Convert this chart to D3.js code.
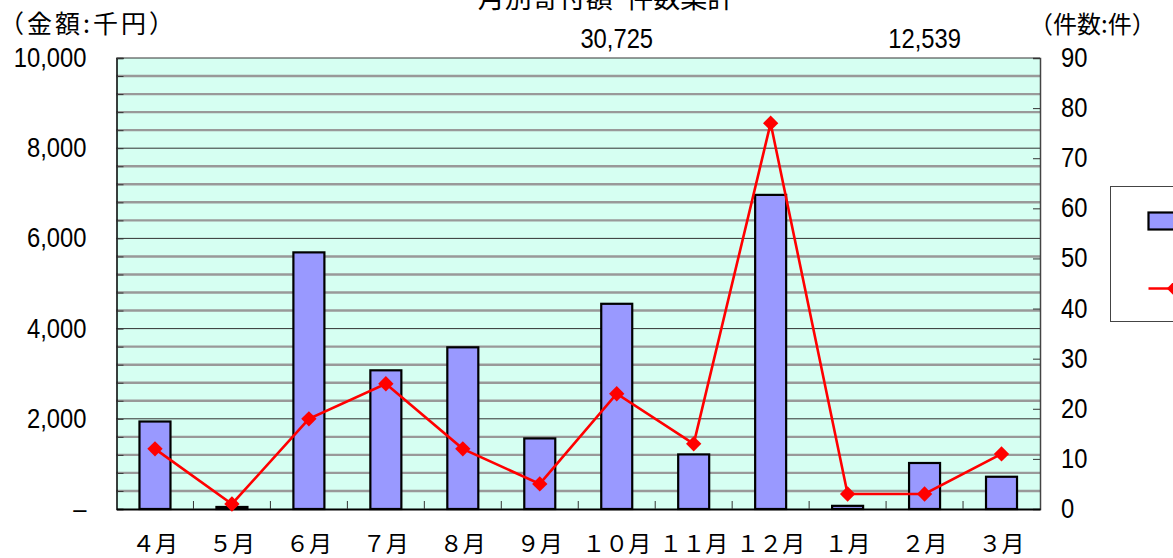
<!DOCTYPE html>
<html>
<head>
<meta charset="utf-8">
<script src="https://cdn.jsdelivr.net/npm/d3@7"></script>
<style>
  body { margin: 0; background: #fff; }
  text { font-family: "Liberation Sans", Arial, sans-serif; fill: #000; }
  .jp { font-family: "Noto Sans CJK JP", sans-serif; }
</style>
</head>
<body>
<div id="chart"></div>
<script>
// data
var months = ["４月", "５月", "６月", "７月", "８月", "９月", "１０月", "１１月", "１２月", "１月", "２月", "３月"];
var amounts = [1940, 45, 5690, 3075, 3585, 1565, 4550, 1210, 6965, 70, 1020, 715]; // 千円
var counts = [12, 1, 18, 25, 12, 5, 23, 13, 77, 3, 3, 11]; // 件
var leftTicks = [0, 2000, 4000, 6000, 8000, 10000];
var rightTicks = [0, 10, 20, 30, 40, 50, 60, 70, 80, 90];
var notes = [{ month: "１０月", text: "30,725" }, { month: "２月", text: "12,539" }];

var svgWidth = 1173, svgHeight = 558;
var margin = { top: 58, right: 133, bottom: 49, left: 116.5 };
var width = svgWidth - margin.left - margin.right;
var height = svgHeight - margin.top - margin.bottom;

var svg = d3.select("#chart").append("svg")
  .attr("width", svgWidth)
  .attr("height", svgHeight);

var g = svg.append("g")
  .attr("transform", `translate(${margin.left}, ${margin.top})`);

// numbers in the picture use a tall, slightly narrow face
function numText(sel) {
  sel.attr("font-size", "27px");
}

// scales
var x = d3.scaleBand().domain(months).range([0, width]).paddingInner(0).paddingOuter(0);
var yL = d3.scaleLinear().domain([0, 10000]).range([height, 0]);
var yR = d3.scaleLinear().domain([0, 90]).range([height, 0]);

// plot background
g.append("rect")
  .attr("width", width)
  .attr("height", height)
  .attr("fill", "#d6fff2");

// gridlines: grey every 400, dark every 2000
var minor = d3.range(400, 10001, 400).filter(d => d % 2000 !== 0);
g.selectAll(".gminor").data(minor).enter().append("line")
  .attr("x1", 0).attr("x2", width)
  .attr("y1", d => yL(d)).attr("y2", d => yL(d))
  .attr("stroke", "#999").attr("stroke-width", 2.4);
g.selectAll(".gmajor").data(leftTicks.filter(d => d > 0)).enter().append("line")
  .attr("x1", 0).attr("x2", width)
  .attr("y1", d => yL(d)).attr("y2", d => yL(d))
  .attr("stroke", "#333").attr("stroke-width", 1);

// bars
var bw = 31;
g.selectAll(".bar").data(amounts).enter().append("rect")
  .attr("x", (d, i) => x(months[i]) + x.bandwidth() / 2 - bw / 2)
  .attr("y", d => yL(d))
  .attr("width", bw)
  .attr("height", d => height - yL(d))
  .attr("fill", "#9999ff")
  .attr("stroke", "#000")
  .attr("stroke-width", 2.2);

// left axis
var leftAxis = d3.axisLeft(yL)
  .tickValues(d3.range(0, 10001, 400))
  .tickSize(-7)
  .tickFormat("");
var la = g.append("g").call(leftAxis);
la.select(".domain").attr("stroke", "#000").attr("stroke-width", 1.5);
la.selectAll(".tick line").attr("stroke", "#333");

g.selectAll(".ltext").data(leftTicks).enter().append("text")
  .attr("transform", d => `translate(-30, ${yL(d) + 9}) scale(0.88, 1)`)
  .attr("text-anchor", "end")
  .call(numText)
  .text(d => d === 0 ? "–" : d3.format(",")(d));

// right axis
var rightAxis = d3.axisRight(yR)
  .tickValues(rightTicks)
  .tickSize(-7)
  .tickFormat("");
var ra = g.append("g").attr("transform", `translate(${width}, 0)`).call(rightAxis);
ra.select(".domain").attr("stroke", "#444").attr("stroke-width", 1.5);
ra.selectAll(".tick line").attr("stroke", "#333");

g.selectAll(".rtext").data(rightTicks).enter().append("text")
  .attr("transform", d => `translate(${width + 21}, ${yR(d) + 9}) scale(0.88, 1)`)
  .call(numText)
  .text(d => d);

// bottom axis: ticks between categories pointing up
var bottomAxis = d3.axisBottom(x).tickSize(0).tickFormat("");
var ba = g.append("g").attr("transform", `translate(0, ${height})`).call(bottomAxis);
ba.select(".domain").attr("stroke", "#000").attr("stroke-width", 2);
g.selectAll(".btick").data(months.slice(1)).enter().append("line")
  .attr("x1", d => x(d)).attr("x2", d => x(d))
  .attr("y1", height).attr("y2", height - 8)
  .attr("stroke", "#333");

g.selectAll(".mlabel").data(months).enter().append("text")
  .attr("class", "jp")
  .attr("x", d => x(d) + x.bandwidth() / 2)
  .attr("y", height + 43)
  .attr("text-anchor", "middle")
  .attr("font-size", "23px")
  .text(d => d);

// line series
var line = d3.line()
  .x((d, i) => x(months[i]) + x.bandwidth() / 2)
  .y(d => yR(d));
g.append("path")
  .datum(counts)
  .attr("d", line)
  .attr("fill", "none")
  .attr("stroke", "#ff0000")
  .attr("stroke-width", 2.6);

var diamond = d3.symbol().type(d3.symbolDiamond2).size(150);
g.selectAll(".marker").data(counts).enter().append("path")
  .attr("d", diamond)
  .attr("transform", (d, i) => `translate(${x(months[i]) + x.bandwidth() / 2}, ${yR(d)})`)
  .attr("fill", "#ff0000");

// annotations above plot
g.selectAll(".note").data(notes).enter().append("text")
  .attr("transform", d => `translate(${x(d.month) + x.bandwidth() / 2}, -10) scale(0.88, 1)`)
  .attr("text-anchor", "middle")
  .call(numText)
  .text(d => d.text);

// title (runs off the top edge, as in the reference) and unit labels
svg.append("text").attr("class", "jp")
  .attr("x", 606).attr("y", 8)
  .attr("text-anchor", "middle")
  .attr("font-size", "27px")
  .text("月別寄付額･件数集計");

svg.append("text").attr("class", "jp")
  .attr("x", -1).attr("y", 33)
  .attr("font-size", "25px")
  .attr("letter-spacing", "3px")
  .text("（金額:千円）");

svg.append("text").attr("class", "jp")
  .attr("x", 1029).attr("y", 33)
  .attr("font-size", "24px")
  .text("（件数:件）");

// legend box, cut off at the right edge as in the reference
var legend = svg.append("g").attr("transform", "translate(1110.5, 186.5)");
legend.append("rect")
  .attr("width", 120).attr("height", 135)
  .attr("fill", "#fff").attr("stroke", "#444").attr("stroke-width", 1);
legend.append("rect")
  .attr("x", 38).attr("y", 26).attr("width", 40).attr("height", 17)
  .attr("fill", "#9999ff").attr("stroke", "#000").attr("stroke-width", 2.2);
legend.append("line")
  .attr("x1", 38).attr("x2", 90).attr("y1", 102).attr("y2", 102)
  .attr("stroke", "#ff0000").attr("stroke-width", 2.6);
legend.append("path")
  .attr("d", diamond)
  .attr("transform", "translate(64, 102)")
  .attr("fill", "#ff0000");
</script>
</body>
</html>
